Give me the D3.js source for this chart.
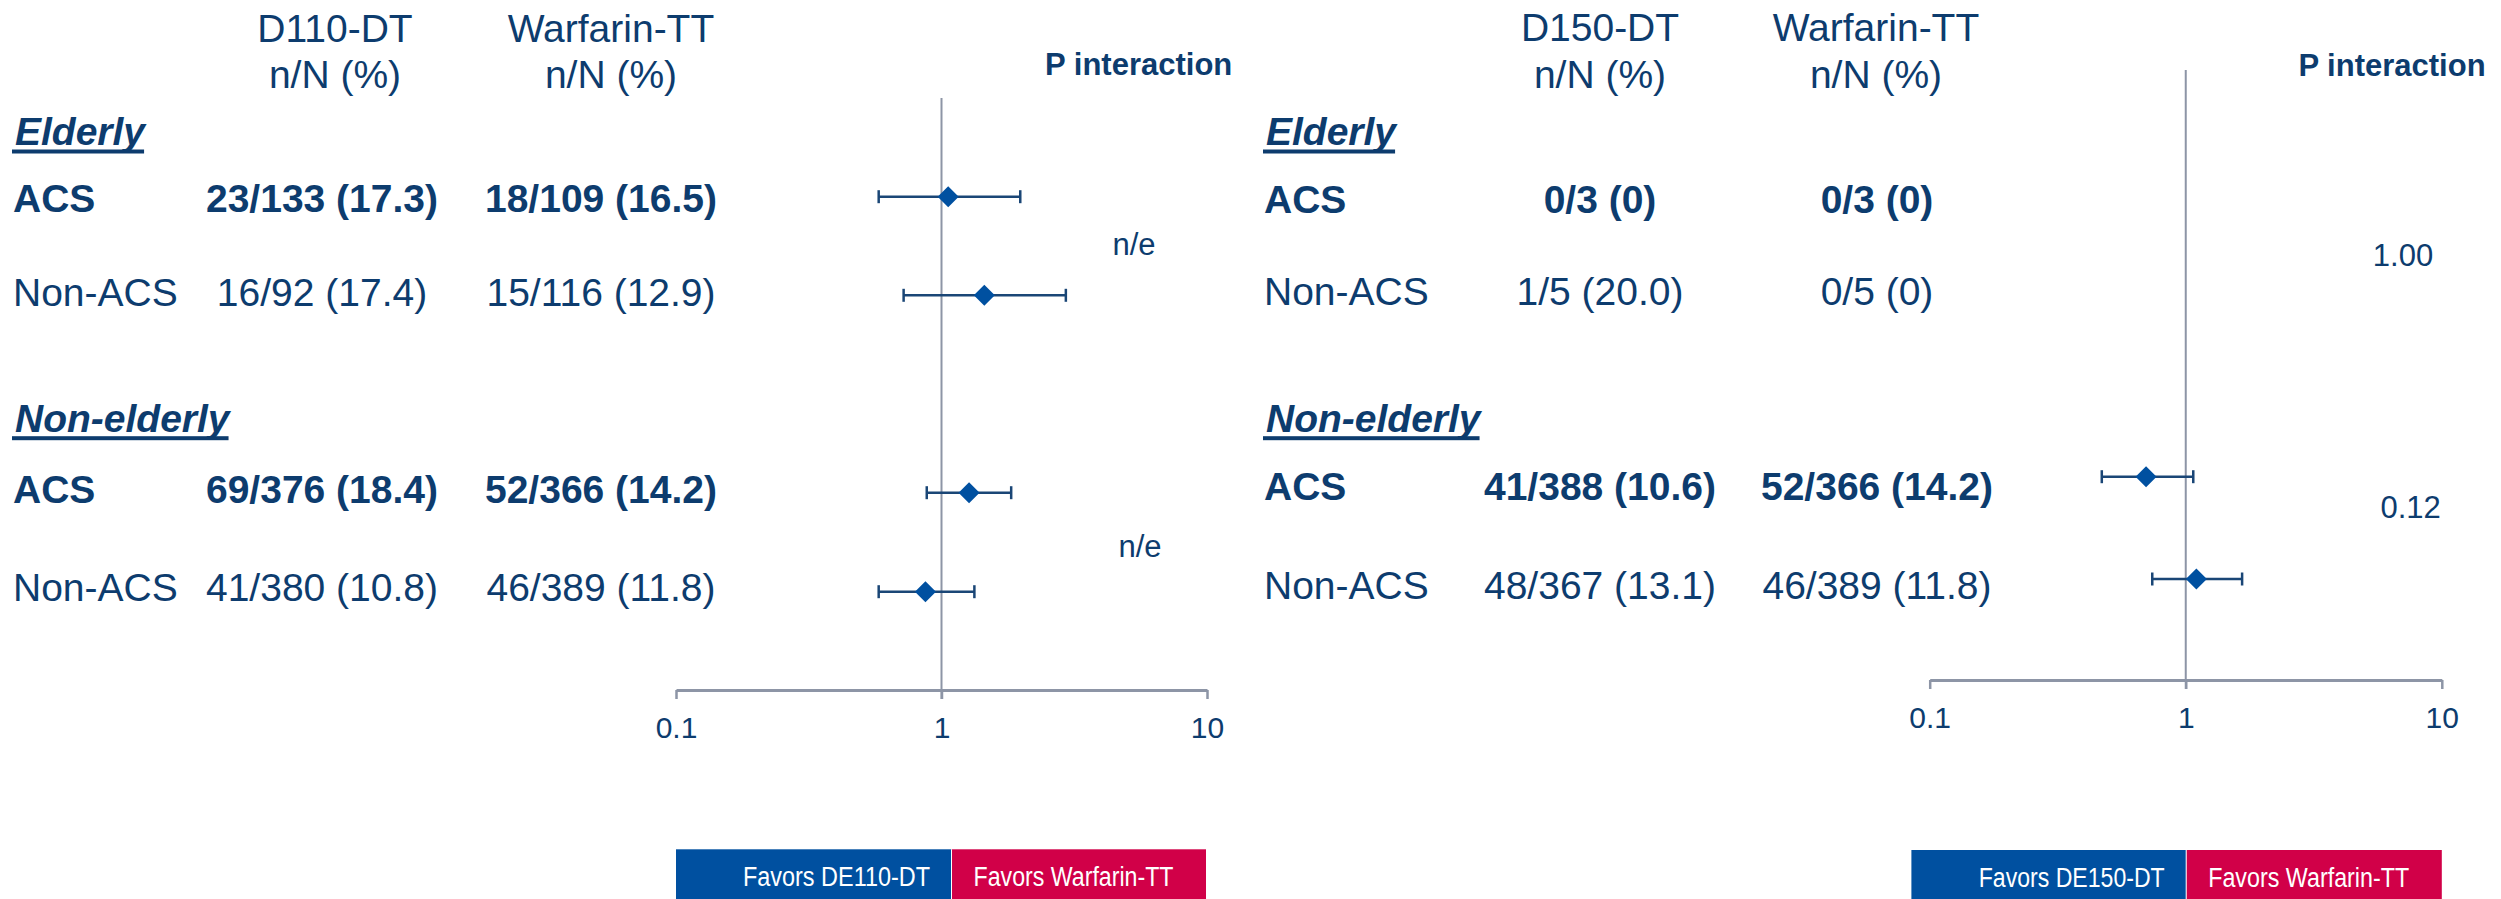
<!DOCTYPE html>
<html>
<head>
<meta charset="utf-8">
<script src="https://cdn.jsdelivr.net/npm/d3@7"></script>
<style>
  html, body { margin: 0; padding: 0; background: #ffffff; }
  svg { display: block; }
  text { font-family: "Liberation Sans", Arial, Helvetica, sans-serif; }
</style>
</head>
<body>
<svg id="chart" width="2501" height="899"></svg>
<script>
// ---------------- data ----------------
const rowKeys = ["eldACS", "eldNon", "nonACS", "nonNon"];
const groupLabels = ["Elderly", "Non-elderly"];
const subgroupLabels = ["ACS", "Non-ACS", "ACS", "Non-ACS"];
const boldRows = [true, false, true, false];

const leftTreatHeader = "D110-DT";
const leftCompHeader = "Warfarin-TT";
const leftTreat = ["23/133 (17.3)", "16/92 (17.4)", "69/376 (18.4)", "41/380 (10.8)"];
const leftComp = ["18/109 (16.5)", "15/116 (12.9)", "52/366 (14.2)", "46/389 (11.8)"];
const leftHR = [1.06, 1.45, 1.27, 0.87];
const leftLo = [0.58, 0.72, 0.88, 0.58];
const leftHi = [1.98, 2.94, 1.83, 1.33];
const leftP = ["n/e", "n/e"];
const leftLegend = ["Favors DE110-DT", "Favors Warfarin-TT"];

const rightTreatHeader = "D150-DT";
const rightCompHeader = "Warfarin-TT";
const rightTreat = ["0/3 (0)", "1/5 (20.0)", "41/388 (10.6)", "48/367 (13.1)"];
const rightComp = ["0/3 (0)", "0/5 (0)", "52/366 (14.2)", "46/389 (11.8)"];
const rightHR = [null, null, 0.70, 1.10];
const rightLo = [null, null, 0.47, 0.74];
const rightHi = [null, null, 1.07, 1.66];
const rightP = ["1.00", "0.12"];
const rightLegend = ["Favors DE150-DT", "Favors Warfarin-TT"];

const subHeader = "n/N (%)";
const pHeader = "P interaction";
const tickValues = [0.1, 1, 10];
const tickLabels = ["0.1", "1", "10"];

// ---------------- styles ----------------
const TEXT = "#0D3C6E";
const DIAMOND = "#0050A0";
const CI = "#1A4676";
const GREY = "#8D95A6";
const BLUE = "#0050A0";
const RED = "#D10048";

const svg = d3.select("#chart");

const panels = [
  {
    treatHeader: leftTreatHeader, compHeader: leftCompHeader,
    treat: leftTreat, comp: leftComp, hr: leftHR, lo: leftLo, hi: leftHi,
    p: leftP, legend: leftLegend,
    textX: 13, h1X: 335, c1X: 322, h2X: 611, c2X: 601,
    headY: [41.5, 88.3],
    groupY: [145, 431.7],
    rowY: [211.7, 306, 503.3, 600.7],
    markY: [196.7, 295.3, 492.7, 591.7],
    range: [676, 1207], axisY: 690, refTop: 98, refBottom: 699, tickY: 738,
    pHeadX: 1138.7, pHeadY: 75, pX: [1134, 1140], pY: [255, 556.7],
    leg: { x0: 676, mid: 951.5, x1: 1206, y: 849.3, w1: 187, w2: 200 }
  },
  {
    treatHeader: rightTreatHeader, compHeader: rightCompHeader,
    treat: rightTreat, comp: rightComp, hr: rightHR, lo: rightLo, hi: rightHi,
    p: rightP, legend: rightLegend,
    textX: 1264, h1X: 1600, c1X: 1600, h2X: 1876, c2X: 1877,
    headY: [40.5, 87.5],
    groupY: [145, 431.7],
    rowY: [213, 305, 500, 599],
    markY: [null, null, 476.7, 579],
    range: [1929.7, 2441.8], axisY: 680, refTop: 70, refBottom: 689, tickY: 728,
    pHeadX: 2392, pHeadY: 75.5, pX: [2403, 2410.7], pY: [265.5, 518],
    leg: { x0: 1911.4, mid: 2186.2, x1: 2441.8, y: 850, w1: 186, w2: 201 }
  }
];

panels.forEach(P => {
  const g = svg.append("g");
  const x = d3.scaleLog().domain([0.1, 10]).range(P.range);
  const yText = d3.scaleOrdinal().domain(rowKeys).range(P.rowY);
  const yMark = d3.scaleOrdinal().domain(rowKeys).range(P.markY);

  // headers
  [[P.treatHeader, P.h1X], [P.compHeader, P.h2X]].forEach(([t, hx]) => {
    g.append("text").attr("x", hx).attr("y", P.headY[0]).attr("text-anchor", "middle")
      .attr("font-size", 39).attr("fill", TEXT).text(t);
    g.append("text").attr("x", hx).attr("y", P.headY[1]).attr("text-anchor", "middle")
      .attr("font-size", 39).attr("fill", TEXT).text(subHeader);
  });
  g.append("text").attr("x", P.pHeadX).attr("y", P.pHeadY).attr("text-anchor", "middle")
    .attr("font-size", 31).attr("font-weight", "bold").attr("fill", TEXT).text(pHeader);

  // group labels (bold italic underlined)
  groupLabels.forEach((lab, i) => {
    const t = g.append("text").attr("x", P.textX + 2).attr("y", P.groupY[i])
      .attr("font-size", 39).attr("font-weight", "bold").attr("font-style", "italic")
      .attr("fill", TEXT).text(lab);
    const w = t.node().getComputedTextLength();
    g.append("rect").attr("x", P.textX - 1).attr("y", P.groupY[i] + 4.5)
      .attr("width", w + 2).attr("height", 4).attr("fill", TEXT);
  });

  // rows of text
  rowKeys.forEach((k, i) => {
    const fw = boldRows[i] ? "bold" : "normal";
    g.append("text").attr("x", P.textX).attr("y", yText(k)).attr("font-size", 39)
      .attr("font-weight", fw).attr("fill", TEXT).text(subgroupLabels[i]);
    g.append("text").attr("x", P.c1X).attr("y", yText(k)).attr("text-anchor", "middle")
      .attr("font-size", 39).attr("font-weight", fw).attr("fill", TEXT).text(P.treat[i]);
    g.append("text").attr("x", P.c2X).attr("y", yText(k)).attr("text-anchor", "middle")
      .attr("font-size", 39).attr("font-weight", fw).attr("fill", TEXT).text(P.comp[i]);
  });

  // p values
  P.p.forEach((pv, i) => {
    g.append("text").attr("x", P.pX[i]).attr("y", P.pY[i]).attr("text-anchor", "middle")
      .attr("font-size", 31).attr("fill", TEXT).text(pv);
  });

  // axis
  const axis = d3.axisBottom(x).tickValues(tickValues)
    .tickFormat((d, i) => tickLabels[i]).tickSizeInner(9).tickSizeOuter(0);
  const ag = g.append("g").attr("transform", `translate(0,${P.axisY})`).call(axis);
  ag.select(".domain").attr("stroke", GREY).attr("stroke-width", 3);
  ag.selectAll(".tick line").attr("stroke", GREY).attr("stroke-width", 2.5);
  ag.selectAll(".tick text").attr("y", P.tickY - P.axisY).attr("dy", null)
    .attr("font-size", 30).attr("fill", TEXT)
    .attr("font-family", '"Liberation Sans", Arial, sans-serif');

  // reference line
  g.append("line").attr("x1", x(1)).attr("x2", x(1))
    .attr("y1", P.refTop).attr("y2", P.refBottom)
    .attr("stroke", GREY).attr("stroke-width", 2);

  // CIs and diamonds
  rowKeys.forEach((k, i) => {
    if (P.hr[i] == null) return;
    const yy = yMark(k);
    g.append("line").attr("x1", x(P.lo[i])).attr("x2", x(P.hi[i]))
      .attr("y1", yy).attr("y2", yy).attr("stroke", CI).attr("stroke-width", 2.5);
    [P.lo[i], P.hi[i]].forEach(v => {
      g.append("line").attr("x1", x(v)).attr("x2", x(v))
        .attr("y1", yy - 6.5).attr("y2", yy + 6.5).attr("stroke", CI).attr("stroke-width", 2.5);
    });
    const cx = x(P.hr[i]);
    g.append("path")
      .attr("d", `M${cx},${yy - 10.5}L${cx + 10.5},${yy}L${cx},${yy + 10.5}L${cx - 10.5},${yy}Z`)
      .attr("fill", DIAMOND);
  });

  // legend
  const L = P.leg;
  g.append("rect").attr("x", L.x0).attr("y", L.y).attr("width", L.mid - L.x0)
    .attr("height", 899 - L.y + 1).attr("fill", BLUE);
  g.append("rect").attr("x", L.mid).attr("y", L.y).attr("width", L.x1 - L.mid)
    .attr("height", 899 - L.y + 1).attr("fill", RED);
  g.append("line").attr("x1", L.mid).attr("x2", L.mid).attr("y1", L.y).attr("y2", 899)
    .attr("stroke", "#ffffff").attr("stroke-width", 1);
  g.append("text").attr("x", L.mid - 21.5 - L.w1).attr("y", L.y + 36.5)
    .attr("font-size", 27).attr("fill", "#ffffff")
    .attr("font-family", '"Liberation Sans Narrow", "Arial Narrow", "Liberation Sans", sans-serif')
    .attr("textLength", L.w1).attr("lengthAdjust", "spacingAndGlyphs")
    .text(P.legend[0]);
  g.append("text").attr("x", L.mid + 22).attr("y", L.y + 36.5)
    .attr("font-size", 27).attr("fill", "#ffffff")
    .attr("font-family", '"Liberation Sans Narrow", "Arial Narrow", "Liberation Sans", sans-serif')
    .attr("textLength", L.w2).attr("lengthAdjust", "spacingAndGlyphs")
    .text(P.legend[1]);
});
</script>
</body>
</html>
